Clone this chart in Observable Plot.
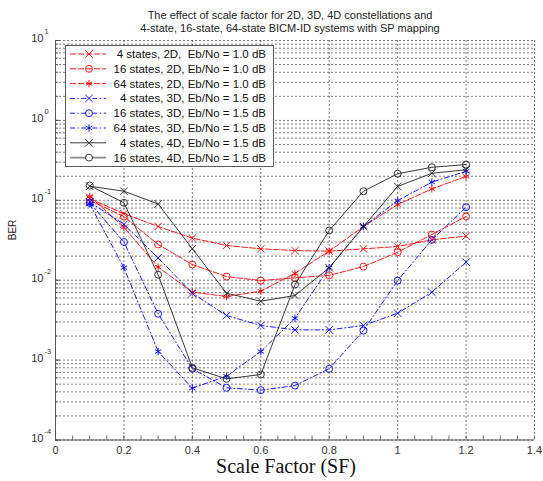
<!DOCTYPE html>
<html><head><meta charset="utf-8">
<script src="https://cdn.jsdelivr.net/npm/d3@7"></script>
<script src="https://cdn.jsdelivr.net/npm/@observablehq/plot@0.6"></script>
<style>body{margin:0;background:#fff}#chart{width:543px;height:481px}</style>
</head><body><div id="chart"></div>
<script>
// ---- data ----
const sf = [0.1, 0.2, 0.3, 0.4, 0.5, 0.6, 0.7, 0.8, 0.9, 1.0, 1.1, 1.2];
const s2D_4  = [0.105, 0.068, 0.047, 0.0336, 0.0272, 0.0247, 0.0235, 0.0231, 0.0247, 0.0264, 0.032, 0.0356];
const s2D_16 = [0.100, 0.0627, 0.028, 0.0157, 0.0111, 0.0099, 0.0107, 0.0115, 0.0148, 0.0224, 0.0373, 0.0627];
const s2D_64 = [0.112, 0.046, 0.0146, 0.0071, 0.00625, 0.00728, 0.0122, 0.0231, 0.047, 0.0885, 0.139, 0.199];
const s3D_4  = [0.095, 0.050, 0.019, 0.00687, 0.00361, 0.00271, 0.00239, 0.00239, 0.00271, 0.00386, 0.00708, 0.0168];
const s3D_16 = [0.093, 0.030, 0.0038, 0.00078, 0.00045, 0.00042, 0.00048, 0.00078, 0.00234, 0.0099, 0.032, 0.082];
const s3D_64 = [0.090, 0.0143, 0.00128, 0.000445, 0.00063, 0.00128, 0.00334, 0.0143, 0.047, 0.099, 0.169, 0.231];
const s4D_4  = [0.15, 0.13, 0.090, 0.0247, 0.00687, 0.00546, 0.00644, 0.0143, 0.047, 0.149, 0.218, 0.241];
const s4D_16 = [0.153, 0.093, 0.0117, 0.0008, 0.000583, 0.00066, 0.00883, 0.0419, 0.130, 0.215, 0.259, 0.28];

const labels = [
  "4 states, 2D,\u00a0 Eb/No = 1.0 dB",
  "16 states, 2D, Eb/No = 1.0 dB",
  "64 states, 2D, Eb/No = 1.0 dB",
  "4 states, 3D, Eb/No = 1.5 dB",
  "16 states, 3D, Eb/No = 1.5 dB",
  "64 states, 3D, Eb/No = 1.5 dB",
  "4 states, 4D, Eb/No = 1.5 dB",
  "16 states, 4D, Eb/No = 1.5 dB"
];
const xTicks = [0, 0.2, 0.4, 0.6, 0.8, 1, 1.2, 1.4];
const xTickLabels = ["0", "0.2", "0.4", "0.6", "0.8", "1", "1.2", "1.4"];
const yMajor = [1e-4, 1e-3, 1e-2, 1e-1, 1, 10];
const yExp = ["-4", "-3", "-2", "-1", "0", "1"];
const title1 = "The effect of scale factor for 2D, 3D, 4D constellations and";
const title2 = "4-state, 16-state, 64-state BICM-ID systems with SP mapping";

// ---- styles ----
const RED = "#ff0000", BLUE = "#0000ff", BLACK = "#222";
const styles = [
  {color: RED, dash: "6,2", symbol: "times"},
  {color: RED, dash: "6,2", symbol: "circle"},
  {color: RED, dash: "6,2", symbol: "asterisk"},
  {color: BLUE, dash: "5,2.5,1.2,2.5", symbol: "times"},
  {color: BLUE, dash: "5,2.5,1.2,2.5", symbol: "circle"},
  {color: BLUE, dash: "5,2.5,1.2,2.5", symbol: "asterisk"},
  {color: BLACK, dash: null, symbol: "times"},
  {color: BLACK, dash: null, symbol: "circle"}
];
const values = [s2D_4, s2D_16, s2D_64, s3D_4, s3D_16, s3D_64, s4D_4, s4D_16];
const series = values.map((v, i) => ({label: labels[i], values: v, ...styles[i]}));

const W = 543, H = 481, mL = 55, mR = 9, mT = 40, mB = 41.5;
const innerW = W - mL - mR, innerH = H - mT - mB;

const yGrid = [];
for (let e = -4; e <= 1; e++) for (let k = 1; k <= 9; k++) { const v = k * 10 ** e; if (v <= 10.0001) yGrid.push(v); }
const xMinor = d3.range(0, 1.4001, 0.05);

const marks = [
  Plot.ruleY(yGrid, {y: d => d, stroke: "#000", strokeOpacity: 0.65, strokeDasharray: "2,2", strokeWidth: 0.8}),
  Plot.ruleX(xTicks, {x: d => d, stroke: "#000", strokeOpacity: 0.65, strokeDasharray: "2,2", strokeWidth: 0.8}),
  Plot.tickX(xMinor, {x: d => d, insetTop: innerH - 4, stroke: "#444", strokeWidth: 0.8}),
  Plot.tickY(yGrid, {y: d => d, insetRight: innerW - 3, stroke: "#444", strokeWidth: 0.8}),
  Plot.tickY(yMajor, {y: d => d, insetRight: innerW - 5, stroke: "#444", strokeWidth: 0.8}),
  Plot.ruleX([0], {stroke: "#555", strokeWidth: 1}),
  Plot.ruleY([1e-4], {stroke: "#555", strokeWidth: 1}),
];
series.forEach(s => {
  const d = s.values.map((v, j) => ({sf: sf[j], ber: v}));
  marks.push(Plot.line(d, {x: "sf", y: "ber", stroke: s.color, strokeWidth: 0.9, strokeDasharray: s.dash}));
  marks.push(Plot.dot(d, {x: "sf", y: "ber", symbol: s.symbol, stroke: s.color, r: 3.5, strokeWidth: 0.9}));
});
marks.push(
  Plot.axisX({ticks: xTicks, tickSize: 0, tickPadding: 6, tickFormat: (d, i) => xTickLabels[i], fontSize: 11, fill: "#333", label: null}),
  Plot.text(yMajor, {y: d => d, text: () => "10", frameAnchor: "left", textAnchor: "end", dx: -12, dy: -2, fontSize: 11, fill: "#333"}),
  Plot.text(yMajor, {y: d => d, text: (d, i) => yExp[i], frameAnchor: "left", textAnchor: "start", dx: -11, dy: -8.5, fontSize: 7.5, fill: "#333"}),
  Plot.text(["BER"], {text: d => d, frameAnchor: "left", dx: -43, rotate: -90, fontSize: 10, fill: "#222"}),
  Plot.text(["Scale Factor (SF)"], {text: d => d, frameAnchor: "bottom", dx: -9, dy: 32.5, fontFamily: "Liberation Serif", fontSize: 20, fill: "#111"}),
  Plot.text([title1], {text: d => d, frameAnchor: "top", dx: -5, dy: -29, fontSize: 11, fill: "#222"}),
  Plot.text([title2], {text: d => d, frameAnchor: "top", dx: -5, dy: -16, fontSize: 11, fill: "#222"})
);

const chart = Plot.plot({
  width: W, height: H,
  marginLeft: mL, marginRight: mR, marginTop: mT, marginBottom: mB,
  style: {fontFamily: "Liberation Sans, Arial, sans-serif", fontSize: "11px", overflow: "visible", background: "#fff"},
  x: {domain: [0, 1.4], axis: null},
  y: {type: "log", domain: [1e-4, 10], axis: null},
  marks
});
document.getElementById("chart").appendChild(chart);

// ---- legend ----
const symMap = {times: d3.symbolTimes, circle: d3.symbolCircle, asterisk: d3.symbolAsterisk};
const g = d3.select(chart).append("g").attr("class", "legend");
g.append("rect").attr("x", 65.5).attr("y", 45.5).attr("width", 208).attr("height", 121)
  .attr("fill", "#fff").attr("stroke", "#333").attr("stroke-width", 0.8);
series.forEach((s, i) => {
  const y = 54 + i * 14.8;
  const last = i === series.length - 1;
  g.append("line").attr("x1", 70).attr("x2", 106).attr("y1", y).attr("y2", y)
    .attr("stroke", last ? "#888" : s.color).attr("stroke-width", last ? 1.6 : 0.9)
    .attr("stroke-dasharray", s.dash);
  g.append("path").attr("transform", `translate(89,${y})`)
    .attr("d", d3.symbol().type(symMap[s.symbol]).size(Math.PI * 3.5 * 3.5)())
    .attr("fill", last ? "#fff" : "none").attr("stroke", s.color).attr("stroke-width", 0.9);
  g.append("text").attr("x", 266).attr("y", y).attr("dy", "0.35em").attr("text-anchor", "end")
    .attr("font-size", 11.5).attr("fill", "#111").text(s.label);
});
</script></body></html>
